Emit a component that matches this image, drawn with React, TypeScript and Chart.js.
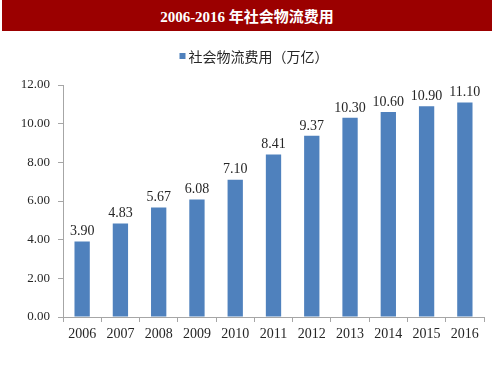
import React, { useEffect, useRef } from "react";
import { Chart, registerables } from "chart.js";
Chart.register(...registerables);

const TITLE = "2006-2016 年社会物流费用";
const SERIES_NAME = "社会物流费用（万亿）";
const years = ["2006", "2007", "2008", "2009", "2010", "2011", "2012", "2013", "2014", "2015", "2016"];
const values = [3.9, 4.83, 5.67, 6.08, 7.1, 8.41, 9.37, 10.3, 10.6, 10.9, 11.1];
const yMin = 0;
const yMax = 12;
const yStep = 2;

const AXIS = "#A6A6A6";
const TEXT = "#262626";
const BAR = "#4F81BD";
const SERIF = '"Liberation Serif", "Times New Roman", serif';
const CJK = '"Noto Sans CJK SC", sans-serif';

const labelPlugin = {
  id: "barValueLabels",
  afterDatasetsDraw(chart: any) {
    const ctx = chart.ctx;
    const meta = chart.getDatasetMeta(0);
    ctx.save();
    ctx.font = `14px ${SERIF}`;
    ctx.fillStyle = TEXT;
    ctx.textAlign = "center";
    ctx.textBaseline = "bottom";
    meta.data.forEach((bar: any, i: number) => {
      ctx.fillText(values[i].toFixed(2), bar.x, bar.y - 3);
    });
    ctx.restore();
  },
};

// Simple legend drawn above the plot, centred like the reference
const legendPlugin = {
  id: "topLegend",
  afterDraw(chart: any) {
    const ctx = chart.ctx;
    const ds = chart.data.datasets[0];
    ctx.save();
    ctx.font = `14px ${CJK}`;
    const textW = ctx.measureText(ds.label).width;
    const box = 6;
    const gap = 3;
    const total = box + gap + textW;
    const cx = 254;
    const x0 = cx - total / 2;
    const cy = 56;
    ctx.fillStyle = ds.backgroundColor;
    ctx.fillRect(x0, cy - box / 2, box, box);
    ctx.fillStyle = TEXT;
    ctx.textAlign = "left";
    ctx.textBaseline = "middle";
    ctx.fillText(ds.label, x0 + box + gap, cy + 1);
    ctx.restore();
  },
};

export default function App() {
  const ref = useRef<HTMLCanvasElement>(null);
  useEffect(() => {
    const chart = new Chart(ref.current!, {
      type: "bar",
      data: {
        labels: years,
        datasets: [
          {
            label: SERIES_NAME,
            data: values,
            backgroundColor: BAR,
            borderWidth: 0,
            barPercentage: 0.4,
            categoryPercentage: 1,
          },
        ],
      },
      options: {
        animation: false,
        responsive: false,
        maintainAspectRatio: false,
        layout: { padding: { top: 85, right: 16, bottom: 0, left: 0 } },
        plugins: {
          legend: { display: false },
          tooltip: { enabled: false },
        },
        scales: {
          x: {
            grid: {
              display: true,
              drawOnChartArea: false,
              drawTicks: true,
              tickLength: 5,
              color: AXIS,
              offset: true,
            },
            border: { display: true, color: AXIS },
            ticks: {
              color: TEXT,
              font: { family: SERIF, size: 14 },
              padding: 4,
              maxRotation: 0,
              autoSkip: false,
            },
            afterFit(s: any) {
              s.height = 58;
            },
          },
          y: {
            min: yMin,
            max: yMax,
            grid: {
              display: true,
              drawOnChartArea: false,
              drawTicks: true,
              tickLength: 5,
              color: AXIS,
            },
            border: { display: true, color: AXIS },
            ticks: {
              stepSize: yStep,
              color: TEXT,
              font: { family: SERIF, size: 13 },
              padding: 8,
              callback: (v: any) => Number(v).toFixed(2),
            },
            afterFit(s: any) {
              s.width = 63;
            },
          },
        },
      },
      plugins: [labelPlugin, legendPlugin],
    } as any);
    return () => chart.destroy();
  }, []);

  return (
    <div style={{ position: "fixed", left: 0, top: 0, width: 500, height: 375, background: "#fff" }}>
      <canvas ref={ref} width={500} height={375} style={{ position: "absolute", left: 0, top: 0 }} />
      <div
        style={{
          position: "absolute",
          left: 2,
          top: 0,
          width: 490,
          height: 31,
          background: "#9B0000",
          color: "#fff",
          font: `bold 15px "Liberation Serif", "Noto Sans CJK SC", serif`,
          display: "flex",
          alignItems: "center",
          justifyContent: "center",
        }}
      >
        {TITLE}
      </div>
    </div>
  );
}
